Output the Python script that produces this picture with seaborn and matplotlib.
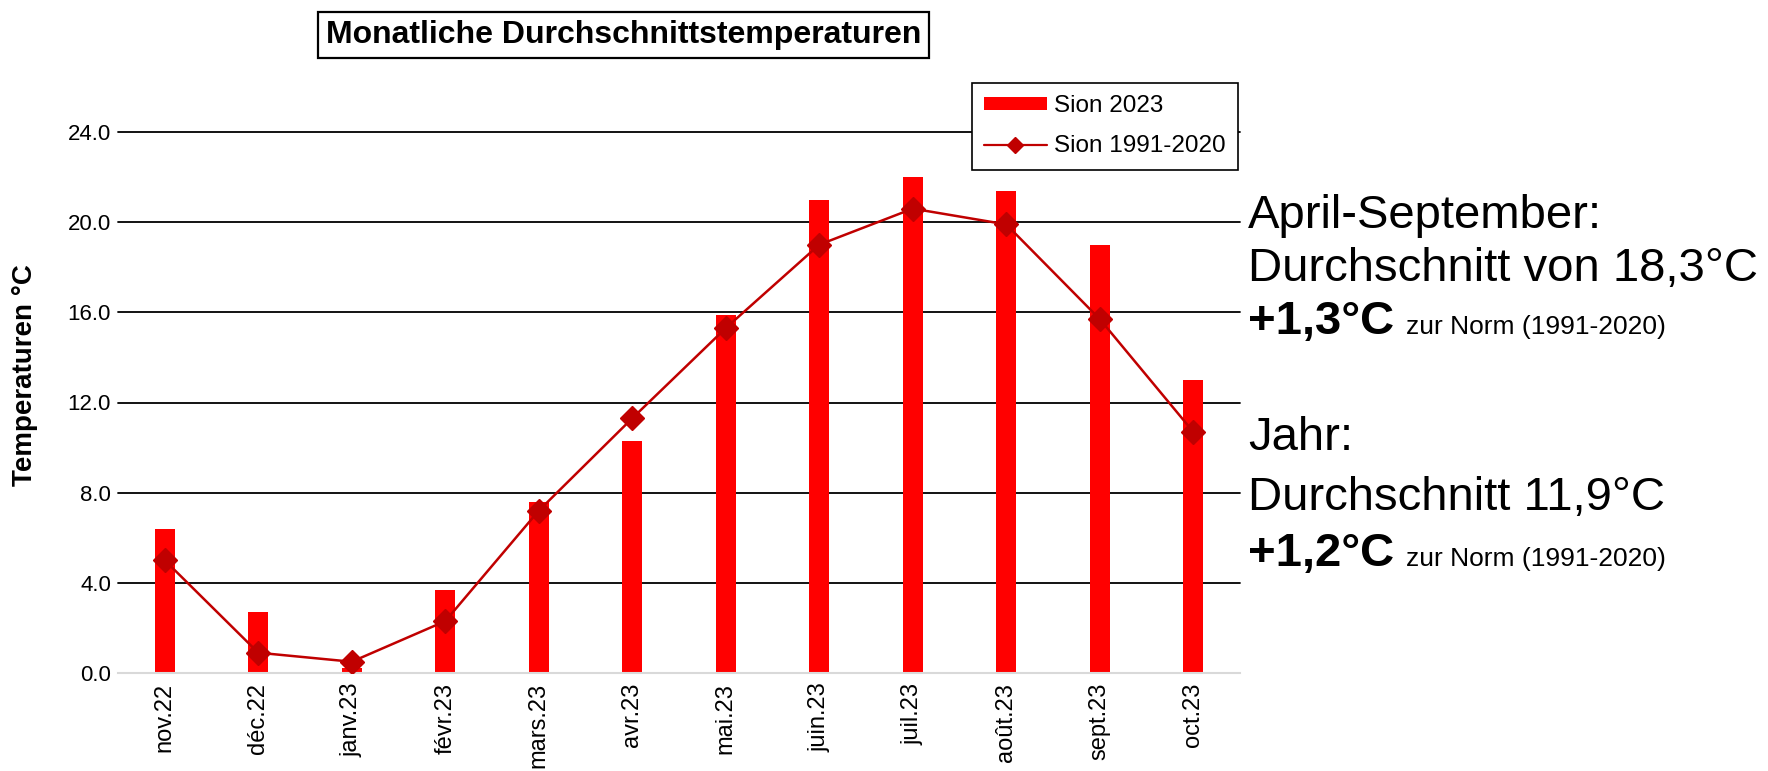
import numpy as np
import pandas as pd
import matplotlib
matplotlib.use("Agg")
import matplotlib.pyplot as plt
import seaborn as sns
from matplotlib.patches import Patch
from matplotlib.lines import Line2D

# ---------------- data ----------------
months = ["nov.22", "déc.22", "janv.23", "févr.23", "mars.23", "avr.23",
          "mai.23", "juin.23", "juil.23", "août.23", "sept.23", "oct.23"]
sion_2023 = [6.4, 2.7, 0.2, 3.7, 7.6, 10.3, 15.9, 21.0, 22.0, 21.4, 19.0, 13.0]
sion_norm = [5.0, 0.9, 0.5, 2.3, 7.2, 11.3, 15.3, 19.0, 20.6, 19.9, 15.7, 10.7]
y_ticks = [0, 4, 8, 12, 16, 20, 24]
series_names = ["Sion 2023", "Sion 1991-2020"]
title = "Monatliche Durchschnittstemperaturen"
y_label = "Temperaturen °C"
period_head = ["April-September:", "Jahr:"]
period_avg = ["Durchschnitt von 18,3°C", "Durchschnitt 11,9°C"]
period_anom = ["+1,3°C", "+1,2°C"]
norm_ref = "zur Norm (1991-2020)"

# ---------------- style ----------------
sns.set_style("white")
plt.rcParams["font.family"] = ["Liberation Sans", "DejaVu Sans"]
plt.rcParams["text.color"] = "black"
plt.rcParams["axes.labelcolor"] = "black"
plt.rcParams["xtick.color"] = "black"
plt.rcParams["ytick.color"] = "black"

BAR_RED = "#FF0000"
LINE_RED = "#C00000"
GREY = "#D9D9D9"

W, H = 1768, 771
fig = plt.figure(figsize=(W / 100, H / 100), dpi=100)
ax = fig.add_axes([118 / W, 1 - 673 / H, 1122 / W, 541 / H])

df = pd.DataFrame({"month": months, "t2023": sion_2023, "norm": sion_norm})
sns.barplot(data=df, x="month", y="t2023", color=BAR_RED, saturation=1,
            width=0.21, linewidth=0, ax=ax, zorder=2)
sns.lineplot(x=np.arange(len(months)), y=sion_norm, color=LINE_RED, lw=1.8,
             marker="D", markersize=12, markeredgecolor=LINE_RED,
             markeredgewidth=1, ax=ax, zorder=3, legend=False)

ax.set_xlim(-0.5, len(months) - 0.5)
ax.set_ylim(0, 24)

# y axis
ax.set_yticks(y_ticks)
ax.set_yticklabels([f"{v:.1f}" for v in y_ticks], fontsize=16)
ax.tick_params(axis="y", length=0, pad=5, colors="black")
ax.set_ylabel(y_label, fontsize=20, fontweight="bold", color="black")
ax.yaxis.set_label_coords(-0.071, 0.55)

# x axis
ax.set_xticks(range(len(months)))
ax.set_xticklabels(months, rotation=90, fontsize=17, color="black")
ax.set_xlabel("")
ax.tick_params(axis="x", which="major", length=0, pad=7)
ax.set_xticks(np.arange(-0.5, len(months), 1.0), minor=True)
ax.tick_params(axis="x", which="minor", length=6, width=1.3, color=GREY,
               direction="out")

for s in ["top", "right", "left"]:
    ax.spines[s].set_visible(False)
ax.spines["bottom"].set_color(GREY)
ax.spines["bottom"].set_linewidth(1.5)

ax.set_axisbelow(True)
ax.yaxis.grid(True, color="black", lw=1.3)
ax.xaxis.grid(False)
for gl in ax.yaxis.get_gridlines():
    gl.set_clip_on(False)
ax.yaxis.get_gridlines()[0].set_visible(False)

# legend
handles = [Patch(facecolor=BAR_RED, edgecolor="none"),
           Line2D([], [], color=LINE_RED, lw=1.6, marker="D", markersize=8)]
leg = fig.legend(handles, series_names, loc="upper right",
                 bbox_to_anchor=(1238 / W, 1 - 83 / H), frameon=True,
                 fancybox=False, edgecolor="black", framealpha=1,
                 fontsize=17.5, handlelength=2.6, handleheight=0.5,
                 handletextpad=0.3, borderpad=0.5, labelspacing=0.75,
                 borderaxespad=0)
leg.get_frame().set_linewidth(1.2)
leg.set_zorder(10)

# title
fig.text(623.5 / W, 1 - 35 / H, title, ha="center", va="center",
         fontsize=23, fontweight="bold",
         bbox=dict(boxstyle="square,pad=0.25", fc="white", ec="black", lw=1.6))

# annotations on the right
x0 = 1248 / W
baselines = [(228, 281, 334), (450, 510, 566)]
fig.canvas.draw()
for i in range(2):
    b1, b2, b3 = baselines[i]
    fig.text(x0, 1 - b1 / H, period_head[i], fontsize=34, va="baseline")
    fig.text(x0, 1 - b2 / H, period_avg[i], fontsize=34, va="baseline")
    t = fig.text(x0, 1 - b3 / H, period_anom[i], fontsize=34,
                 fontweight="bold", va="baseline")
    fig.canvas.draw()
    bb = t.get_window_extent()
    fig.text((bb.x1 + 12) / W, 1 - b3 / H, norm_ref, fontsize=19,
             va="baseline")

fig.savefig("out.png", dpi=100)
